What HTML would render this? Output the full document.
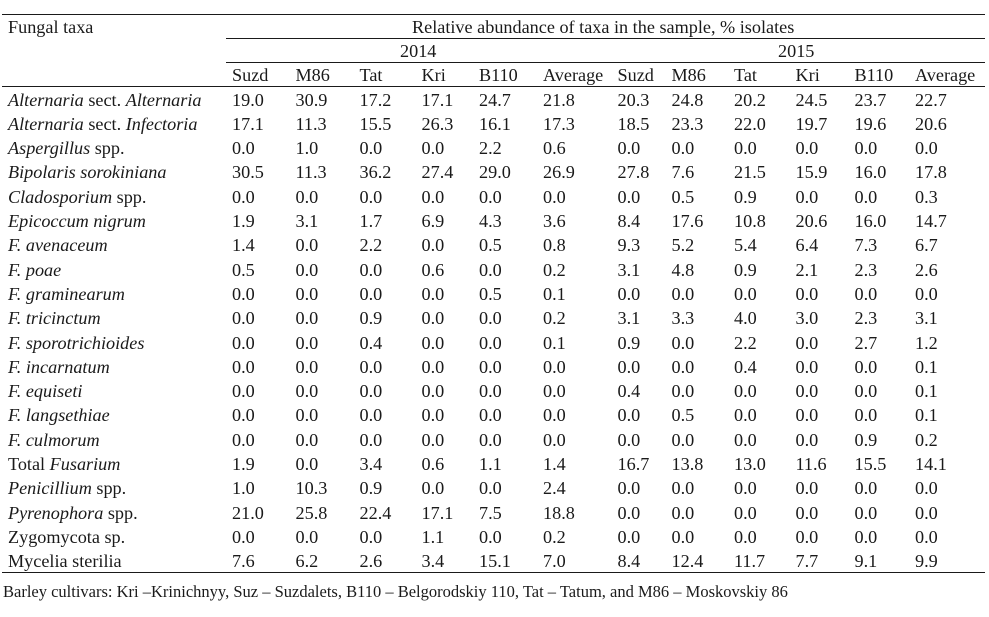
<!DOCTYPE html>
<html><head><meta charset="utf-8"><style>
html,body{margin:0;padding:0;background:#fff;}
body{width:989px;height:617px;position:relative;overflow:hidden;font-family:"Liberation Serif","Times New Roman",serif;color:#1a1a1a;font-size:18.2px;}
.t{position:absolute;white-space:nowrap;line-height:24px;height:24px;}
.ln{position:absolute;height:1.3px;background:#1a1a1a;}
i{font-style:italic;}
.ft{position:absolute;white-space:nowrap;font-size:16.5px;line-height:20px;left:3px;top:582px;}
</style></head><body>
<div class="ln" style="left:2px;width:983px;top:13.7px"></div>
<div class="ln" style="left:226px;width:759px;top:37.7px"></div>
<div class="ln" style="left:226px;width:759px;top:61.7px"></div>
<div class="ln" style="left:2px;width:983px;top:85.5px"></div>
<div class="ln" style="left:2px;width:983px;top:571.7px"></div>

<div class="t" style="left:8px;top:15px">Fungal taxa</div>
<div class="t" style="left:412px;top:15px">Relative abundance of taxa in the sample, % isolates</div>
<div class="t" style="left:400px;top:39px">2014</div>
<div class="t" style="left:778px;top:39px">2015</div>
<div id="hdr"></div>
<div id="rows"></div>
<div class="ft">Barley cultivars: Kri –Krinichnyy, Suz – Suzdalets, B110 – Belgorodskiy 110, Tat – Tatum, and M86 – Moskovskiy 86</div>

<div class="t" style="left:232px;top:63px">Suzd</div>
<div class="t" style="left:295.5px;top:63px">M86</div>
<div class="t" style="left:359.5px;top:63px">Tat</div>
<div class="t" style="left:421.5px;top:63px">Kri</div>
<div class="t" style="left:479px;top:63px">B110</div>
<div class="t" style="left:543px;top:63px">Average</div>
<div class="t" style="left:617.5px;top:63px">Suzd</div>
<div class="t" style="left:671.5px;top:63px">M86</div>
<div class="t" style="left:734px;top:63px">Tat</div>
<div class="t" style="left:795.5px;top:63px">Kri</div>
<div class="t" style="left:854.5px;top:63px">B110</div>
<div class="t" style="left:915px;top:63px">Average</div>

<!-- Row 1 -->
<div class="t" style="left:8px;top:87.5px"><i>Alternaria</i> sect. <i>Alternaria</i></div>
<div class="t" style="left:232px;top:87.5px">19.0</div><div class="t" style="left:295.5px;top:87.5px">30.9</div><div class="t" style="left:359.5px;top:87.5px">17.2</div><div class="t" style="left:421.5px;top:87.5px">17.1</div><div class="t" style="left:479px;top:87.5px">24.7</div><div class="t" style="left:543px;top:87.5px">21.8</div><div class="t" style="left:617.5px;top:87.5px">20.3</div><div class="t" style="left:671.5px;top:87.5px">24.8</div><div class="t" style="left:734px;top:87.5px">20.2</div><div class="t" style="left:795.5px;top:87.5px">24.5</div><div class="t" style="left:854.5px;top:87.5px">23.7</div><div class="t" style="left:915px;top:87.5px">22.7</div>
<!-- Row 2 -->
<div class="t" style="left:8px;top:111.8px"><i>Alternaria</i> sect. <i>Infectoria</i></div>
<div class="t" style="left:232px;top:111.8px">17.1</div><div class="t" style="left:295.5px;top:111.8px">11.3</div><div class="t" style="left:359.5px;top:111.8px">15.5</div><div class="t" style="left:421.5px;top:111.8px">26.3</div><div class="t" style="left:479px;top:111.8px">16.1</div><div class="t" style="left:543px;top:111.8px">17.3</div><div class="t" style="left:617.5px;top:111.8px">18.5</div><div class="t" style="left:671.5px;top:111.8px">23.3</div><div class="t" style="left:734px;top:111.8px">22.0</div><div class="t" style="left:795.5px;top:111.8px">19.7</div><div class="t" style="left:854.5px;top:111.8px">19.6</div><div class="t" style="left:915px;top:111.8px">20.6</div>
<!-- Row 3 -->
<div class="t" style="left:8px;top:136.1px"><i>Aspergillus</i> spp.</div>
<div class="t" style="left:232px;top:136.1px">0.0</div><div class="t" style="left:295.5px;top:136.1px">1.0</div><div class="t" style="left:359.5px;top:136.1px">0.0</div><div class="t" style="left:421.5px;top:136.1px">0.0</div><div class="t" style="left:479px;top:136.1px">2.2</div><div class="t" style="left:543px;top:136.1px">0.6</div><div class="t" style="left:617.5px;top:136.1px">0.0</div><div class="t" style="left:671.5px;top:136.1px">0.0</div><div class="t" style="left:734px;top:136.1px">0.0</div><div class="t" style="left:795.5px;top:136.1px">0.0</div><div class="t" style="left:854.5px;top:136.1px">0.0</div><div class="t" style="left:915px;top:136.1px">0.0</div>
<!-- Row 4 -->
<div class="t" style="left:8px;top:160.4px"><i>Bipolaris sorokiniana</i></div>
<div class="t" style="left:232px;top:160.4px">30.5</div><div class="t" style="left:295.5px;top:160.4px">11.3</div><div class="t" style="left:359.5px;top:160.4px">36.2</div><div class="t" style="left:421.5px;top:160.4px">27.4</div><div class="t" style="left:479px;top:160.4px">29.0</div><div class="t" style="left:543px;top:160.4px">26.9</div><div class="t" style="left:617.5px;top:160.4px">27.8</div><div class="t" style="left:671.5px;top:160.4px">7.6</div><div class="t" style="left:734px;top:160.4px">21.5</div><div class="t" style="left:795.5px;top:160.4px">15.9</div><div class="t" style="left:854.5px;top:160.4px">16.0</div><div class="t" style="left:915px;top:160.4px">17.8</div>
<!-- Row 5 -->
<div class="t" style="left:8px;top:184.7px"><i>Cladosporium</i> spp.</div>
<div class="t" style="left:232px;top:184.7px">0.0</div><div class="t" style="left:295.5px;top:184.7px">0.0</div><div class="t" style="left:359.5px;top:184.7px">0.0</div><div class="t" style="left:421.5px;top:184.7px">0.0</div><div class="t" style="left:479px;top:184.7px">0.0</div><div class="t" style="left:543px;top:184.7px">0.0</div><div class="t" style="left:617.5px;top:184.7px">0.0</div><div class="t" style="left:671.5px;top:184.7px">0.5</div><div class="t" style="left:734px;top:184.7px">0.9</div><div class="t" style="left:795.5px;top:184.7px">0.0</div><div class="t" style="left:854.5px;top:184.7px">0.0</div><div class="t" style="left:915px;top:184.7px">0.3</div>
<!-- Row 6 -->
<div class="t" style="left:8px;top:209px"><i>Epicoccum nigrum</i></div>
<div class="t" style="left:232px;top:209px">1.9</div><div class="t" style="left:295.5px;top:209px">3.1</div><div class="t" style="left:359.5px;top:209px">1.7</div><div class="t" style="left:421.5px;top:209px">6.9</div><div class="t" style="left:479px;top:209px">4.3</div><div class="t" style="left:543px;top:209px">3.6</div><div class="t" style="left:617.5px;top:209px">8.4</div><div class="t" style="left:671.5px;top:209px">17.6</div><div class="t" style="left:734px;top:209px">10.8</div><div class="t" style="left:795.5px;top:209px">20.6</div><div class="t" style="left:854.5px;top:209px">16.0</div><div class="t" style="left:915px;top:209px">14.7</div>
<!-- Row 7 -->
<div class="t" style="left:8px;top:233.3px"><i>F. avenaceum</i></div>
<div class="t" style="left:232px;top:233.3px">1.4</div><div class="t" style="left:295.5px;top:233.3px">0.0</div><div class="t" style="left:359.5px;top:233.3px">2.2</div><div class="t" style="left:421.5px;top:233.3px">0.0</div><div class="t" style="left:479px;top:233.3px">0.5</div><div class="t" style="left:543px;top:233.3px">0.8</div><div class="t" style="left:617.5px;top:233.3px">9.3</div><div class="t" style="left:671.5px;top:233.3px">5.2</div><div class="t" style="left:734px;top:233.3px">5.4</div><div class="t" style="left:795.5px;top:233.3px">6.4</div><div class="t" style="left:854.5px;top:233.3px">7.3</div><div class="t" style="left:915px;top:233.3px">6.7</div>
<!-- Row 8 -->
<div class="t" style="left:8px;top:257.6px"><i>F. poae</i></div>
<div class="t" style="left:232px;top:257.6px">0.5</div><div class="t" style="left:295.5px;top:257.6px">0.0</div><div class="t" style="left:359.5px;top:257.6px">0.0</div><div class="t" style="left:421.5px;top:257.6px">0.6</div><div class="t" style="left:479px;top:257.6px">0.0</div><div class="t" style="left:543px;top:257.6px">0.2</div><div class="t" style="left:617.5px;top:257.6px">3.1</div><div class="t" style="left:671.5px;top:257.6px">4.8</div><div class="t" style="left:734px;top:257.6px">0.9</div><div class="t" style="left:795.5px;top:257.6px">2.1</div><div class="t" style="left:854.5px;top:257.6px">2.3</div><div class="t" style="left:915px;top:257.6px">2.6</div>
<!-- Row 9 -->
<div class="t" style="left:8px;top:281.9px"><i>F. graminearum</i></div>
<div class="t" style="left:232px;top:281.9px">0.0</div><div class="t" style="left:295.5px;top:281.9px">0.0</div><div class="t" style="left:359.5px;top:281.9px">0.0</div><div class="t" style="left:421.5px;top:281.9px">0.0</div><div class="t" style="left:479px;top:281.9px">0.5</div><div class="t" style="left:543px;top:281.9px">0.1</div><div class="t" style="left:617.5px;top:281.9px">0.0</div><div class="t" style="left:671.5px;top:281.9px">0.0</div><div class="t" style="left:734px;top:281.9px">0.0</div><div class="t" style="left:795.5px;top:281.9px">0.0</div><div class="t" style="left:854.5px;top:281.9px">0.0</div><div class="t" style="left:915px;top:281.9px">0.0</div>
<!-- Row 10 -->
<div class="t" style="left:8px;top:306.2px"><i>F. tricinctum</i></div>
<div class="t" style="left:232px;top:306.2px">0.0</div><div class="t" style="left:295.5px;top:306.2px">0.0</div><div class="t" style="left:359.5px;top:306.2px">0.9</div><div class="t" style="left:421.5px;top:306.2px">0.0</div><div class="t" style="left:479px;top:306.2px">0.0</div><div class="t" style="left:543px;top:306.2px">0.2</div><div class="t" style="left:617.5px;top:306.2px">3.1</div><div class="t" style="left:671.5px;top:306.2px">3.3</div><div class="t" style="left:734px;top:306.2px">4.0</div><div class="t" style="left:795.5px;top:306.2px">3.0</div><div class="t" style="left:854.5px;top:306.2px">2.3</div><div class="t" style="left:915px;top:306.2px">3.1</div>
<!-- Row 11 -->
<div class="t" style="left:8px;top:330.5px"><i>F. sporotrichioides</i></div>
<div class="t" style="left:232px;top:330.5px">0.0</div><div class="t" style="left:295.5px;top:330.5px">0.0</div><div class="t" style="left:359.5px;top:330.5px">0.4</div><div class="t" style="left:421.5px;top:330.5px">0.0</div><div class="t" style="left:479px;top:330.5px">0.0</div><div class="t" style="left:543px;top:330.5px">0.1</div><div class="t" style="left:617.5px;top:330.5px">0.9</div><div class="t" style="left:671.5px;top:330.5px">0.0</div><div class="t" style="left:734px;top:330.5px">2.2</div><div class="t" style="left:795.5px;top:330.5px">0.0</div><div class="t" style="left:854.5px;top:330.5px">2.7</div><div class="t" style="left:915px;top:330.5px">1.2</div>
<!-- Row 12 -->
<div class="t" style="left:8px;top:354.8px"><i>F. incarnatum</i></div>
<div class="t" style="left:232px;top:354.8px">0.0</div><div class="t" style="left:295.5px;top:354.8px">0.0</div><div class="t" style="left:359.5px;top:354.8px">0.0</div><div class="t" style="left:421.5px;top:354.8px">0.0</div><div class="t" style="left:479px;top:354.8px">0.0</div><div class="t" style="left:543px;top:354.8px">0.0</div><div class="t" style="left:617.5px;top:354.8px">0.0</div><div class="t" style="left:671.5px;top:354.8px">0.0</div><div class="t" style="left:734px;top:354.8px">0.4</div><div class="t" style="left:795.5px;top:354.8px">0.0</div><div class="t" style="left:854.5px;top:354.8px">0.0</div><div class="t" style="left:915px;top:354.8px">0.1</div>
<!-- Row 13 -->
<div class="t" style="left:8px;top:379.1px"><i>F. equiseti</i></div>
<div class="t" style="left:232px;top:379.1px">0.0</div><div class="t" style="left:295.5px;top:379.1px">0.0</div><div class="t" style="left:359.5px;top:379.1px">0.0</div><div class="t" style="left:421.5px;top:379.1px">0.0</div><div class="t" style="left:479px;top:379.1px">0.0</div><div class="t" style="left:543px;top:379.1px">0.0</div><div class="t" style="left:617.5px;top:379.1px">0.4</div><div class="t" style="left:671.5px;top:379.1px">0.0</div><div class="t" style="left:734px;top:379.1px">0.0</div><div class="t" style="left:795.5px;top:379.1px">0.0</div><div class="t" style="left:854.5px;top:379.1px">0.0</div><div class="t" style="left:915px;top:379.1px">0.1</div>
<!-- Row 14 -->
<div class="t" style="left:8px;top:403.4px"><i>F. langsethiae</i></div>
<div class="t" style="left:232px;top:403.4px">0.0</div><div class="t" style="left:295.5px;top:403.4px">0.0</div><div class="t" style="left:359.5px;top:403.4px">0.0</div><div class="t" style="left:421.5px;top:403.4px">0.0</div><div class="t" style="left:479px;top:403.4px">0.0</div><div class="t" style="left:543px;top:403.4px">0.0</div><div class="t" style="left:617.5px;top:403.4px">0.0</div><div class="t" style="left:671.5px;top:403.4px">0.5</div><div class="t" style="left:734px;top:403.4px">0.0</div><div class="t" style="left:795.5px;top:403.4px">0.0</div><div class="t" style="left:854.5px;top:403.4px">0.0</div><div class="t" style="left:915px;top:403.4px">0.1</div>
<!-- Row 15 -->
<div class="t" style="left:8px;top:427.7px"><i>F. culmorum</i></div>
<div class="t" style="left:232px;top:427.7px">0.0</div><div class="t" style="left:295.5px;top:427.7px">0.0</div><div class="t" style="left:359.5px;top:427.7px">0.0</div><div class="t" style="left:421.5px;top:427.7px">0.0</div><div class="t" style="left:479px;top:427.7px">0.0</div><div class="t" style="left:543px;top:427.7px">0.0</div><div class="t" style="left:617.5px;top:427.7px">0.0</div><div class="t" style="left:671.5px;top:427.7px">0.0</div><div class="t" style="left:734px;top:427.7px">0.0</div><div class="t" style="left:795.5px;top:427.7px">0.0</div><div class="t" style="left:854.5px;top:427.7px">0.9</div><div class="t" style="left:915px;top:427.7px">0.2</div>
<!-- Row 16 -->
<div class="t" style="left:8px;top:452px">Total <i>Fusarium</i></div>
<div class="t" style="left:232px;top:452px">1.9</div><div class="t" style="left:295.5px;top:452px">0.0</div><div class="t" style="left:359.5px;top:452px">3.4</div><div class="t" style="left:421.5px;top:452px">0.6</div><div class="t" style="left:479px;top:452px">1.1</div><div class="t" style="left:543px;top:452px">1.4</div><div class="t" style="left:617.5px;top:452px">16.7</div><div class="t" style="left:671.5px;top:452px">13.8</div><div class="t" style="left:734px;top:452px">13.0</div><div class="t" style="left:795.5px;top:452px">11.6</div><div class="t" style="left:854.5px;top:452px">15.5</div><div class="t" style="left:915px;top:452px">14.1</div>
<!-- Row 17 -->
<div class="t" style="left:8px;top:476.3px"><i>Penicillium</i> spp.</div>
<div class="t" style="left:232px;top:476.3px">1.0</div><div class="t" style="left:295.5px;top:476.3px">10.3</div><div class="t" style="left:359.5px;top:476.3px">0.9</div><div class="t" style="left:421.5px;top:476.3px">0.0</div><div class="t" style="left:479px;top:476.3px">0.0</div><div class="t" style="left:543px;top:476.3px">2.4</div><div class="t" style="left:617.5px;top:476.3px">0.0</div><div class="t" style="left:671.5px;top:476.3px">0.0</div><div class="t" style="left:734px;top:476.3px">0.0</div><div class="t" style="left:795.5px;top:476.3px">0.0</div><div class="t" style="left:854.5px;top:476.3px">0.0</div><div class="t" style="left:915px;top:476.3px">0.0</div>
<!-- Row 18 -->
<div class="t" style="left:8px;top:500.6px"><i>Pyrenophora</i> spp.</div>
<div class="t" style="left:232px;top:500.6px">21.0</div><div class="t" style="left:295.5px;top:500.6px">25.8</div><div class="t" style="left:359.5px;top:500.6px">22.4</div><div class="t" style="left:421.5px;top:500.6px">17.1</div><div class="t" style="left:479px;top:500.6px">7.5</div><div class="t" style="left:543px;top:500.6px">18.8</div><div class="t" style="left:617.5px;top:500.6px">0.0</div><div class="t" style="left:671.5px;top:500.6px">0.0</div><div class="t" style="left:734px;top:500.6px">0.0</div><div class="t" style="left:795.5px;top:500.6px">0.0</div><div class="t" style="left:854.5px;top:500.6px">0.0</div><div class="t" style="left:915px;top:500.6px">0.0</div>
<!-- Row 19 -->
<div class="t" style="left:8px;top:524.9px">Zygomycota sp.</div>
<div class="t" style="left:232px;top:524.9px">0.0</div><div class="t" style="left:295.5px;top:524.9px">0.0</div><div class="t" style="left:359.5px;top:524.9px">0.0</div><div class="t" style="left:421.5px;top:524.9px">1.1</div><div class="t" style="left:479px;top:524.9px">0.0</div><div class="t" style="left:543px;top:524.9px">0.2</div><div class="t" style="left:617.5px;top:524.9px">0.0</div><div class="t" style="left:671.5px;top:524.9px">0.0</div><div class="t" style="left:734px;top:524.9px">0.0</div><div class="t" style="left:795.5px;top:524.9px">0.0</div><div class="t" style="left:854.5px;top:524.9px">0.0</div><div class="t" style="left:915px;top:524.9px">0.0</div>
<!-- Row 20 -->
<div class="t" style="left:8px;top:549.2px">Mycelia sterilia</div>
<div class="t" style="left:232px;top:549.2px">7.6</div><div class="t" style="left:295.5px;top:549.2px">6.2</div><div class="t" style="left:359.5px;top:549.2px">2.6</div><div class="t" style="left:421.5px;top:549.2px">3.4</div><div class="t" style="left:479px;top:549.2px">15.1</div><div class="t" style="left:543px;top:549.2px">7.0</div><div class="t" style="left:617.5px;top:549.2px">8.4</div><div class="t" style="left:671.5px;top:549.2px">12.4</div><div class="t" style="left:734px;top:549.2px">11.7</div><div class="t" style="left:795.5px;top:549.2px">7.7</div><div class="t" style="left:854.5px;top:549.2px">9.1</div><div class="t" style="left:915px;top:549.2px">9.9</div>
</body></html>
